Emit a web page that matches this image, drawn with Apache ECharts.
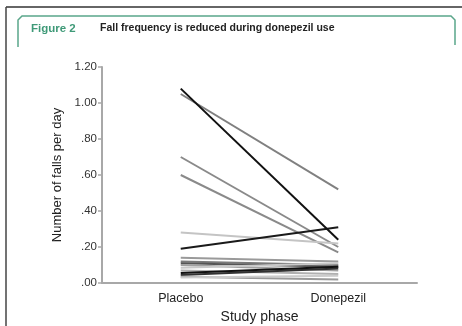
<!DOCTYPE html>
<html>
<head>
<meta charset="utf-8">
<script src="https://cdn.jsdelivr.net/npm/echarts@6/dist/echarts.min.js"></script>
<style>
html,body{margin:0;padding:0;background:#fff;}
#c{width:462px;height:326px;}
</style>
</head>
<body>
<div id="c"></div>
<script>
var categories = ['Placebo', 'Donepezil'];
var yTicks = ['.00', '.20', '.40', '.60', '.80', '1.00', '1.20'];
var placebo   = [1.08, 1.05, 0.70, 0.60, 0.28, 0.19, 0.14, 0.12, 0.11, 0.10, 0.085, 0.07, 0.055, 0.045, 0.035, 0.03];
var donepezil = [0.24, 0.52, 0.20, 0.17, 0.22, 0.31, 0.12, 0.10, 0.09, 0.07, 0.11, 0.05, 0.09, 0.08, 0.02, 0.04];
var shades    = ['#111111', '#808080', '#8a8a8a', '#8a8a8a', '#c4c4c4', '#1a1a1a', '#9a9a9a', '#7a7a7a', '#555555', '#a0a0a0', '#c8c8c8', '#b0b0b0', '#111111', '#333333', '#9a9a9a', '#cccccc'];

var chart = echarts.init(document.getElementById('c'), null, {renderer: 'canvas'});
var series = placebo.map(function (p, i) {
  return {
    type: 'line',
    data: [p, donepezil[i]],
    symbol: 'none',
    silent: true,
    z: shades[i] === '#111111' ? 5 : 3,
    lineStyle: {color: shades[i], width: 2}
  };
});

chart.setOption({
  animation: false,
  backgroundColor: '#ffffff',
  grid: {left: 102, right: 45, top: 67, bottom: 43, containLabel: false, outerBoundsMode: 'none'},
  xAxis: {
    type: 'category',
    data: categories,
    boundaryGap: true,
    name: 'Study phase',
    nameLocation: 'middle',
    nameGap: 27,
    nameTextStyle: {fontFamily: 'Liberation Sans', fontSize: 14, color: '#222'},
    axisLine: {lineStyle: {color: '#a8a8a8', width: 2}},
    axisTick: {show: false},
    axisLabel: {fontFamily: 'Liberation Sans', fontSize: 12.5, color: '#222', margin: 9}
  },
  yAxis: {
    type: 'value',
    min: 0, max: 1.2, interval: 0.2,
    name: 'Number of falls per day',
    nameLocation: 'middle',
    nameGap: 31,
    nameRotate: 90,
    nameTextStyle: {fontFamily: 'Liberation Sans', fontSize: 13, color: '#222'},
    axisLine: {show: true, lineStyle: {color: '#a8a8a8', width: 2}},
    axisTick: {show: true, length: 4, lineStyle: {color: '#a8a8a8', width: 1.5}},
    splitLine: {show: false},
    axisLabel: {
      fontFamily: 'Liberation Sans', fontSize: 11.5, color: '#333', margin: 5,
      formatter: function (v) { return yTicks[Math.round(v / 0.2)]; }
    }
  },
  graphic: [
    {type: 'line', shape: {x1: 6, y1: 7, x2: 462, y2: 7}, style: {stroke: '#333', lineWidth: 1.5}},
    {type: 'line', shape: {x1: 6, y1: 7, x2: 6, y2: 326}, style: {stroke: '#444', lineWidth: 1.5}},
    {type: 'polyline', shape: {points: [[18, 47], [18, 20], [22, 16], [451, 16], [455, 20], [455, 45]]},
      style: {stroke: '#5aa68a', lineWidth: 1.5, fill: null}},
    {type: 'text', left: 31, top: 23, style: {text: 'Figure 2', fill: '#3f9a78', font: 'bold 11.5px "Liberation Sans"'}},
    {type: 'text', left: 100, top: 23, style: {text: 'Fall frequency is reduced during donepezil use', fill: '#222', font: 'bold 10.5px "Liberation Sans"'}}
  ],
  series: series
});
</script>
</body>
</html>
